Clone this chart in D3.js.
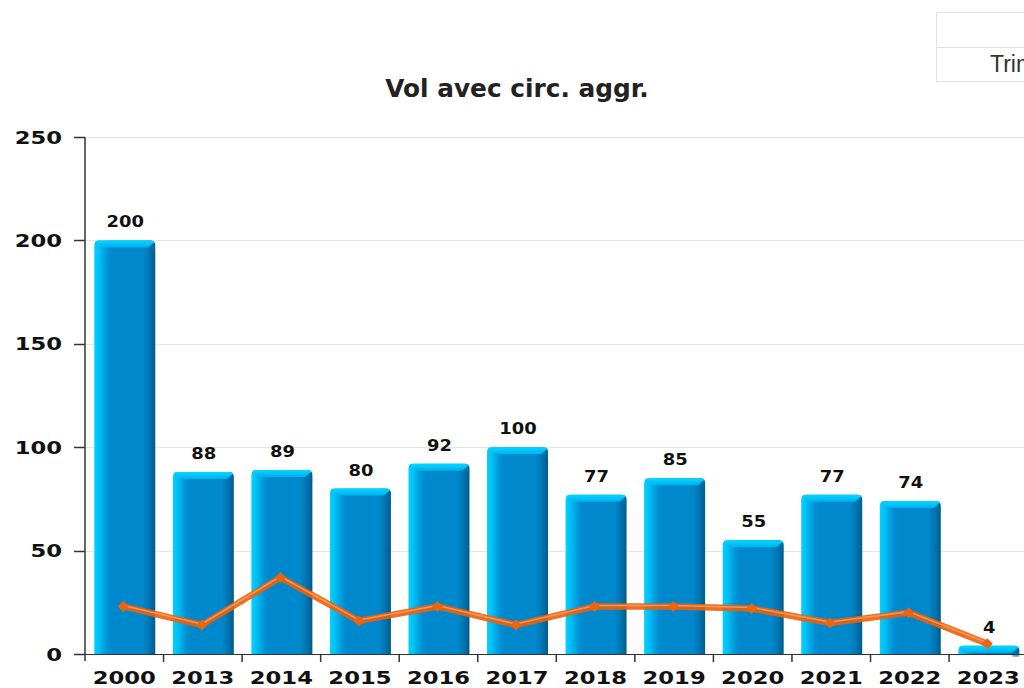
<!DOCTYPE html>
<html>
<head>
<meta charset="utf-8">
<script src="https://cdn.jsdelivr.net/npm/d3@7"></script>
<style>
  html, body { margin: 0; padding: 0; background: #fff; overflow: hidden; }
  svg { display: block; }
</style>
</head>
<body>
<svg id="chart" width="1024" height="688"></svg>
<script>
const categories = ["2000","2013","2014","2015","2016","2017","2018","2019","2020","2021","2022","2023"];
const barValues  = [200, 88, 89, 80, 92, 100, 77, 85, 55, 77, 74, 4];
const lineValues = [23, 14, 37, 16, 23, 14, 23, 23, 22, 15, 20, 5];
const yTicks     = [0, 50, 100, 150, 200, 250];
const titleText  = "Vol avec circ. aggr.";
const tableText  = "Trimestre";

const svg = d3.select("#chart");
const margin = {left: 85, top: 137, bottom: 654, right: 1027.6};
const SX = 1.26; // horizontal text stretch

const x = d3.scaleBand().domain(categories).range([margin.left, margin.right]).padding(0);
const y = d3.scaleLinear().domain([0, 250]).range([margin.bottom, margin.top]);

const defs = svg.append("defs");
const g1 = defs.append("linearGradient").attr("id", "barGrad").attr("x1", 0).attr("x2", 1).attr("y1", 0).attr("y2", 0);
[[0, "#00d2ff"], [0.08, "#00c0f6"], [0.22, "#0090d4"], [0.3, "#0088cc"], [0.8, "#0088cc"], [0.9, "#0076b2"], [1, "#005b8a"]]
  .forEach(([o, c]) => g1.append("stop").attr("offset", o).attr("stop-color", c));
const g2 = defs.append("linearGradient").attr("id", "capGrad").attr("x1", 0).attr("x2", 0).attr("y1", 0).attr("y2", 1);
[[0, "#00d8ff"], [1, "#00b0ee"]].forEach(([o, c]) => g2.append("stop").attr("offset", o).attr("stop-color", c));

// top-right table fragment (cut by the page edge, as in the reference)
svg.append("rect").attr("x", 936.5).attr("y", 12.5).attr("width", 120).attr("height", 69)
  .attr("fill", "#fff").attr("stroke", "#e2e2e2");
svg.append("line").attr("x1", 936.5).attr("x2", 1060).attr("y1", 47.5).attr("y2", 47.5).attr("stroke", "#e2e2e2");
svg.append("text").attr("x", 990).attr("y", 72).attr("font-family", "Liberation Sans, Arial, sans-serif")
  .attr("font-size", 23).attr("fill", "#333").text(tableText);

// title
svg.append("text").attr("x", 517).attr("y", 97).attr("text-anchor", "middle")
  .attr("font-family", "DejaVu Sans, sans-serif").attr("font-weight", "bold").attr("font-size", 24.8)
  .attr("fill", "#222").text(titleText);

// gridlines
svg.append("g").selectAll("line").data(yTicks.filter(d => d > 0)).join("line")
  .attr("x1", margin.left).attr("x2", 1024)
  .attr("y1", d => Math.round(y(d)) + 0.5).attr("y2", d => Math.round(y(d)) + 0.5)
  .attr("stroke", "#e4e4e4").attr("stroke-width", 1);

// bars
const bw = 61;
const r = 5;
function barPath(x0, y0, w, h) {
  const rr = Math.min(r, h);
  return `M${x0},${y0 + h} L${x0},${y0 + rr} Q${x0},${y0} ${x0 + rr},${y0} L${x0 + w - rr},${y0} Q${x0 + w},${y0} ${x0 + w},${y0 + rr} L${x0 + w},${y0 + h} Z`;
}
const bars = svg.append("g").selectAll("g").data(categories.map((c, i) => ({c, v: barValues[i]}))).join("g");
bars.append("path")
  .attr("d", d => {
    const x0 = x(d.c) + x.bandwidth() / 2 - bw / 2 + 0.5;
    const y0 = y(d.v);
    return barPath(x0, y0, bw, y(0) - y0);
  })
  .attr("fill", "url(#barGrad)");
// top cap bevel
bars.append("path")
  .attr("d", d => {
    const x0 = x(d.c) + x.bandwidth() / 2 - bw / 2 + 0.5;
    const y0 = y(d.v);
    const h = Math.min(7, y(0) - y0);
    return `M${x0 + 1},${y0 + 2} Q${x0 + 1},${y0} ${x0 + r},${y0} L${x0 + bw - r},${y0} Q${x0 + bw - 1},${y0} ${x0 + bw - 1},${y0 + 2} L${x0 + bw - 7},${y0 + h} L${x0 + 7},${y0 + h} Z`;
  })
  .attr("fill", "url(#capGrad)");
// right bevel side at top
bars.append("path")
  .attr("d", d => {
    const x0 = x(d.c) + x.bandwidth() / 2 - bw / 2 + 0.5;
    const y0 = y(d.v);
    const h = Math.min(7, y(0) - y0);
    return `M${x0 + bw - 7},${y0 + h} L${x0 + bw - 1},${y0 + 2} L${x0 + bw},${y0 + h + 4} L${x0 + bw - 7},${y0 + h + 4} Z`;
  })
  .attr("fill", "#0070a8").attr("opacity", 0.6);

// bar value labels
bars.append("g")
  .attr("transform", d => `translate(${x(d.c) + x.bandwidth() / 2 + 1},${y(d.v) - 13}) scale(${SX * 0.95},1)`)
  .append("text").attr("text-anchor", "middle")
  .attr("font-family", "DejaVu Sans, sans-serif").attr("font-weight", "bold").attr("font-size", 15)
  .attr("fill", "#111").text(d => d.v);

// axes
const axisColor = "#333";
svg.append("line").attr("x1", margin.left).attr("x2", margin.left).attr("y1", y(250)).attr("y2", y(0) + 7)
  .attr("stroke", axisColor).attr("stroke-width", 1.5);
svg.append("line").attr("x1", margin.left - 11).attr("x2", 1024).attr("y1", y(0) + 0.5).attr("y2", y(0) + 0.5)
  .attr("stroke", axisColor).attr("stroke-width", 1.2);
svg.append("g").selectAll("line").data(yTicks).join("line")
  .attr("x1", margin.left - 11).attr("x2", margin.left)
  .attr("y1", d => Math.round(y(d)) + 0.5).attr("y2", d => Math.round(y(d)) + 0.5)
  .attr("stroke", axisColor).attr("stroke-width", 1.5);
svg.append("g").selectAll("g").data(yTicks).join("g")
  .attr("transform", d => `translate(62,${y(d) + 6.5}) scale(${SX},1)`)
  .append("text").attr("text-anchor", "end")
  .attr("font-family", "DejaVu Sans, sans-serif").attr("font-weight", "bold").attr("font-size", 18)
  .attr("fill", "#111").text(d => d);
// x ticks at band boundaries
svg.append("g").selectAll("line").data(categories.slice(1)).join("line")
  .attr("x1", d => x(d)).attr("x2", d => x(d))
  .attr("y1", y(0)).attr("y2", y(0) + 8)
  .attr("stroke", axisColor).attr("stroke-width", 1.5);
svg.append("g").selectAll("g").data(categories).join("g")
  .attr("transform", d => `translate(${x(d) + x.bandwidth() / 2},684) scale(${SX},1)`)
  .append("text").attr("text-anchor", "middle")
  .attr("font-family", "DejaVu Sans, sans-serif").attr("font-weight", "bold").attr("font-size", 18)
  .attr("fill", "#111").text(d => d);

// line series
const pts = categories.map((c, i) => [x(c) + x.bandwidth() / 2 - 1, y(lineValues[i])]);
const lineGen = d3.line();
svg.append("path").attr("d", lineGen(pts)).attr("fill", "none")
  .attr("stroke", "#ea600c").attr("stroke-width", 6.5).attr("stroke-linejoin", "round").attr("opacity", 0.9);
svg.append("path").attr("d", lineGen(pts.map(p => [p[0], p[1] - 1]))).attr("fill", "none")
  .attr("stroke", "#ffa060").attr("stroke-width", 1.6).attr("stroke-linejoin", "round").attr("opacity", 0.8);
svg.append("g").selectAll("path").data(pts).join("path")
  .attr("d", d => `M${d[0]},${d[1] - 5.5} L${d[0] + 5.5},${d[1]} L${d[0]},${d[1] + 5.5} L${d[0] - 5.5},${d[1]} Z`)
  .attr("fill", "#ec640e");
</script>
</body>
</html>
